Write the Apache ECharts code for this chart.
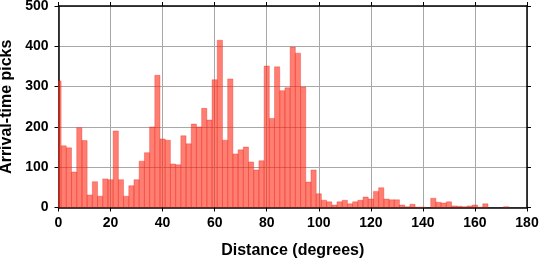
<!DOCTYPE html>
<html>
<head>
<meta charset="utf-8">
<style>html,body{margin:0;padding:0;background:#fff}#c{width:539px;height:258px}</style>
<script src="https://cdn.jsdelivr.net/npm/echarts@6/dist/echarts.min.js"></script>
</head>
<body>
<div id="c"></div>
<script>
// Bin centres (degrees), 2-degree bins
const distances = [0,2,4,6,8,10,12,14,16,18,20,22,24,26,28,30,32,34,36,38,40,42,44,46,48,50,52,54,56,58,60,62,64,66,68,70,72,74,76,78,80,82,84,86,88,90,92,94,96,98,100,102,104,106,108,110,112,114,116,118,120,122,124,126,128,130,132,134,136,138,140,142,144,146,148,150,152,154,156,158,160,162,164,166,168,170,172,174,176,178,180];
const picks = [314,153,148,88,198,166,31,64,28,71,69,190,69,28,54,69,115,136,200,328,170,167,108,106,178,158,207,200,246,217,317,415,167,319,133,143,150,113,93,116,351,221,349,290,297,398,383,299,63,93,34,18,14,6,14,18,9,14,18,26,21,40,49,21,19,19,6,2,8,1,1,0,23,13,11,14,4,3,2,4,6,1,9,0,0,0,2,0,0,0,0];
const xTicks = [0,20,40,60,80,100,120,140,160,180];
const yTicks = [0,100,200,300,400,500];
const binWidth = 2;

const chart = echarts.init(document.getElementById('c'), null, {renderer:'canvas'});
const font = '"Liberation Sans", Arial, Helvetica, sans-serif';
const lineStyle = {color:'#000', width:1.5};
const tickStyle = {show:true, inside:false, length:4, lineStyle:{color:'#000', width:1}};
const grid = {left:58.5, right:12, top:6, bottom:50.5, containLabel:false, outerBoundsMode:'none'};

chart.setOption({
  animation:false,
  grid: grid,
  xAxis: [{
    type:'value', min:xTicks[0], max:xTicks[xTicks.length-1], interval:20, position:'bottom',
    axisLine:{show:true, onZero:false, lineStyle:lineStyle},
    axisTick:tickStyle,
    splitLine:{show:true, lineStyle:{color:'#a8a8a8', width:1}},
    axisLabel:{color:'#000', fontFamily:font, fontWeight:'bold', fontSize:14, margin:9},
    name:'Distance (degrees)', nameLocation:'middle', nameGap:35,
    nameTextStyle:{color:'#000', fontFamily:font, fontWeight:'bold', fontSize:16}
  },{
    type:'value', min:xTicks[0], max:xTicks[xTicks.length-1], interval:20, position:'top',
    axisLine:{show:true, onZero:false, lineStyle:lineStyle},
    axisTick:tickStyle, axisLabel:{show:false}, splitLine:{show:false}
  }],
  yAxis: [{
    type:'value', min:yTicks[0], max:yTicks[yTicks.length-1], interval:100, position:'left',
    axisLine:{show:true, onZero:false, lineStyle:lineStyle},
    axisTick:tickStyle,
    splitLine:{show:true, lineStyle:{color:'#a8a8a8', width:1}},
    axisLabel:{color:'#000', fontFamily:font, fontWeight:'bold', fontSize:14, margin:10},
    name:'Arrival-time picks', nameLocation:'middle', nameGap:42,
    nameTextStyle:{color:'#000', fontFamily:font, fontWeight:'bold', fontSize:16}
  },{
    type:'value', min:yTicks[0], max:yTicks[yTicks.length-1], interval:100, position:'right',
    axisLine:{show:true, onZero:false, lineStyle:lineStyle},
    axisTick:tickStyle, axisLabel:{show:false}, splitLine:{show:false}
  }],
  series: [{
    type:'custom',
    clip:true,
    data: distances.map((d,i)=>[d, picks[i]]),
    encode:{x:0, y:1},
    renderItem: function(params, api){
      const d = api.value(0), v = api.value(1);
      if (!v) return null;
      const p0 = api.coord([d - binWidth/2, 0]);
      const p1 = api.coord([d + binWidth/2, v]);
      return {
        type:'rect',
        shape:{x:p0[0], y:p1[1], width:p1[0]-p0[0], height:p0[1]-p1[1]},
        style:{fill:'rgba(255,40,20,0.6)', stroke:'rgba(235,30,20,0.55)', lineWidth:0.6}
      };
    }
  }]
});
</script>
</body>
</html>
